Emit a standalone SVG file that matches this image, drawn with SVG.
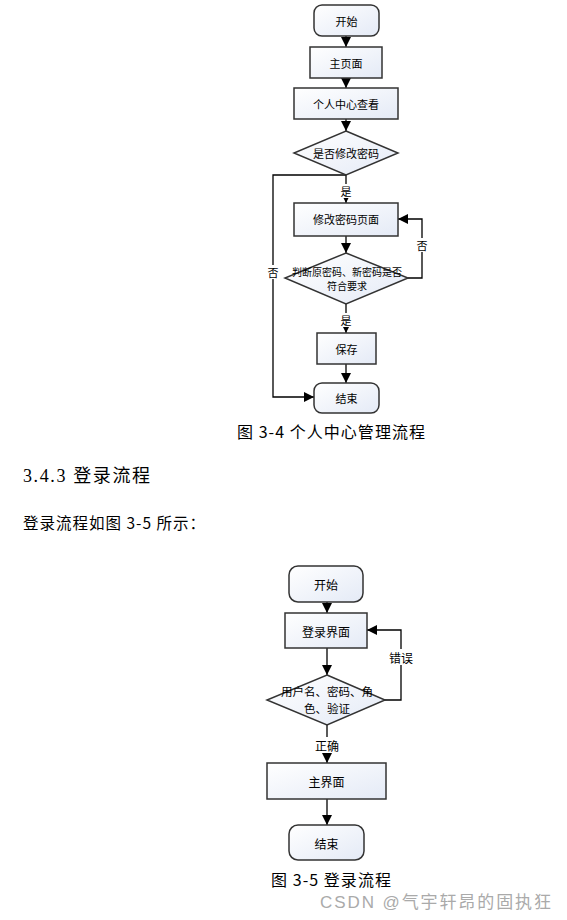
<svg xmlns="http://www.w3.org/2000/svg" width="567" height="920" viewBox="0 0 567 920">
<defs>
<linearGradient id="g" x1="0" y1="0" x2="1" y2="1">
<stop offset="0" stop-color="#ffffff"/>
<stop offset="1" stop-color="#e4eaf6"/>
</linearGradient>
<marker id="a" viewBox="0 0 10 10" refX="10" refY="5" markerWidth="10" markerHeight="10" markerUnits="userSpaceOnUse" orient="auto">
<path d="M0,0 L10,5 L0,10 Z" fill="#000"/>
</marker>
<style>
.n{fill:url(#g);stroke:#333;stroke-width:1.5}
.e{fill:none;stroke:#000;stroke-width:1.3;marker-end:url(#a)}
.t{font-family:"Noto Sans CJK SC",sans-serif;font-size:11px;fill:#000;text-anchor:middle;dominant-baseline:central}
.t2{font-family:"Noto Sans CJK SC",sans-serif;font-size:12px;fill:#000;text-anchor:middle;dominant-baseline:central}
.lb{font-family:"Noto Sans CJK SC",sans-serif;font-size:11px;fill:#000;text-anchor:middle;dominant-baseline:central}
.cap{font-family:"Noto Sans CJK SC",sans-serif;font-size:16px;fill:#000}
.bg{fill:#fff}
</style>
</defs>
<rect width="567" height="920" fill="#fff"/>

<g id="connectors">
<path class="e" d="M346,36 V47"/>
<path class="e" d="M346,78 V88"/>
<path class="e" d="M346,119 V131"/>
<path class="e" d="M346,175 V203"/>
<path class="e" d="M346,236 V253"/>
<path class="e" d="M346,304 V333"/>
<path class="e" d="M346,364 V383"/>
<path class="e" d="M346,175 H273 V397 H314"/>
<path class="e" d="M408,278 H422 V219 H398"/>
<path class="e" d="M327,602 V613"/>
<path class="e" d="M327,648 V675"/>
<path class="e" d="M327,725 V763"/>
<path class="e" d="M327,799 V825"/>
<path class="e" d="M385,700 H401 V630 H367"/>
<rect class="bg" x="339" y="184" width="14" height="14"/>
<text class="lb" x="346" y="191">是</text>
<rect class="bg" x="339" y="313" width="14" height="14"/>
<text class="lb" x="346" y="320">是</text>
<rect class="bg" x="266" y="265" width="14" height="14"/>
<text class="lb" x="273" y="272">否</text>
<rect class="bg" x="415" y="238" width="14" height="14"/>
<text class="lb" x="422" y="245">否</text>
<rect class="bg" x="314" y="737" width="26" height="16"/>
<text class="t2" x="327" y="745">正确</text>
<rect class="bg" x="387" y="649" width="28" height="16"/>
<text class="t2" x="401" y="657">错误</text>
</g>

<g id="start1"><rect class="n" x="314" y="5" width="65" height="31" rx="8"/><text class="t" x="346.5" y="21">开始</text></g>
<g id="home"><rect class="n" x="310" y="47" width="72" height="31"/><text class="t" x="346" y="63">主页面</text></g>
<g id="profile"><rect class="n" x="294" y="88" width="104" height="31"/><text class="t" x="346" y="104">个人中心查看</text></g>
<g id="ask"><polygon class="n" points="346,131 398,153 346,175 294,153"/><text class="t" x="346" y="153">是否修改密码</text></g>
<g id="changepage"><rect class="n" x="294" y="203" width="104" height="33"/><text class="t" x="346" y="219">修改密码页面</text></g>
<g id="check"><polygon class="n" points="346,253 408,278 346,304 285,278"/><text class="t" x="347" y="271" style="font-size:10px">判断原密码、新密码是否</text><text class="t" x="347" y="285" style="font-size:10px">符合要求</text></g>
<g id="save"><rect class="n" x="317" y="333" width="59" height="31"/><text class="t" x="346.5" y="349">保存</text></g>
<g id="end1"><rect class="n" x="314" y="383" width="65" height="30" rx="8"/><text class="t" x="346.5" y="398">结束</text></g>

<text class="cap" x="237" y="438" textLength="188" lengthAdjust="spacing">图 3-4 个人中心管理流程</text>
<text x="23" y="482" textLength="127" lengthAdjust="spacing" style="font-family:'Liberation Serif','Noto Sans CJK SC',serif;font-size:18px;fill:#000">3.4.3  登录流程</text>
<text x="23" y="529" textLength="182" lengthAdjust="spacing" style="font-family:'Noto Sans CJK SC',sans-serif;font-size:15.5px;fill:#000">登录流程如图 3-5 所示：</text>

<g id="start2"><rect class="n" x="289" y="566" width="74" height="36" rx="9"/><text class="t2" x="326" y="584">开始</text></g>
<g id="login"><rect class="n" x="285" y="613" width="82" height="35"/><text class="t2" x="326" y="631">登录界面</text></g>
<g id="verify"><polygon class="n" points="327,675 385,700 327,725 267,700"/><text class="t2" x="327" y="691" style="font-size:11.5px">用户名、密码、角</text><text class="t2" x="327" y="708" style="font-size:11.5px">色、验证</text></g>
<g id="main"><rect class="n" x="267" y="763" width="119" height="36"/><text class="t2" x="326.5" y="781">主界面</text></g>
<g id="end2"><rect class="n" x="289" y="825" width="75" height="35" rx="9"/><text class="t2" x="326.5" y="843">结束</text></g>

<text class="cap" x="271" y="886" textLength="120" lengthAdjust="spacing">图 3-5 登录流程</text>
<text x="320" y="908" textLength="231" lengthAdjust="spacing" style="font-family:'Liberation Sans','Noto Sans CJK SC',sans-serif;font-size:17px;fill:#aaa">CSDN @气宇轩昂的固执狂</text>
</svg>
